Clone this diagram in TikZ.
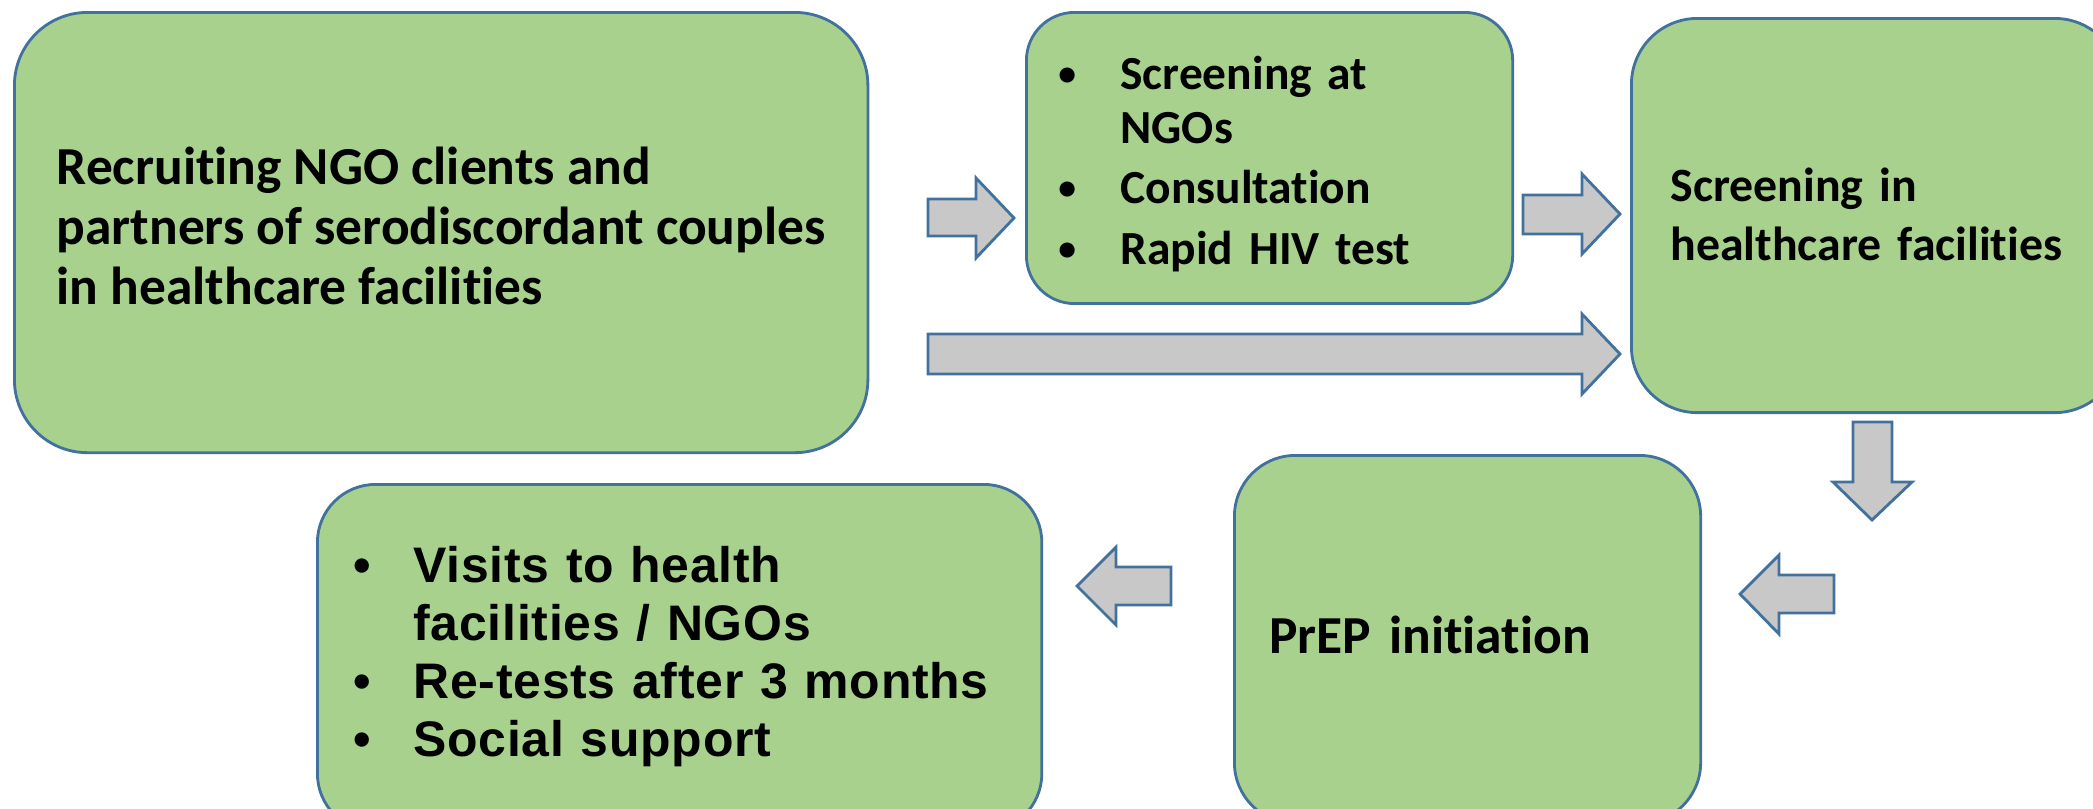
\documentclass[tikz,border=0pt]{standalone}
\usepackage{fontspec}
\setmainfont{Carlito}[Ligatures=NoCommon]
\newfontfamily\arialfont{Liberation Sans}[LetterSpace=1.5]
\definecolor{boxgreen}{HTML}{A9D18E}
\definecolor{edgeblue}{HTML}{41719C}
\definecolor{arrowgray}{HTML}{C8C8C8}
\newcommand{\ngobullet}{\raisebox{0.04cm}{\scalebox{0.75}{\textbullet}}}
\begin{document}
\begin{tikzpicture}[x=0.01cm, y=-0.01cm,
  box/.style={draw=edgeblue, fill=boxgreen, line width=0.8pt, anchor=north west, align=left},
  blockarrow/.style={draw=edgeblue, fill=arrowgray, line width=0.8pt}]
\useasboundingbox (0,0) rectangle (2093,808);
\clip (0,0) rectangle (2093,808);
% boxes
\node[box, rounded corners=0.73cm, minimum width=8.53cm, minimum height=4.4cm,
  font=\fontsize{15.2}{17.1}\selectfont\bfseries] (recruit) at (13,11)
  {\begin{tabular}{@{}l@{}}Recruiting NGO clients and\\partners of serodiscordant couples\\in healthcare facilities\end{tabular}};
\node[box, rounded corners=0.48cm, minimum width=4.86cm, minimum height=2.91cm,
  text width=4.22cm, inner xsep=0.32cm, font=\fontsize{13.5}{15.4}\selectfont\bfseries] (ngo) at (1025,11)
  {\raisebox{-0.08cm}[\height][\depth]{\begin{tabular}{@{}p{0.62cm}@{}l@{}}
   \ngobullet & Screening at\\
              & NGOs\\[0.06cm]
   \ngobullet & Consultation\\[0.06cm]
   \ngobullet & Rapid HIV test
   \end{tabular}}};
\node[box, rounded corners=0.66cm, minimum width=4.89cm, minimum height=3.94cm,
  text width=4.11cm, inner xsep=0.39cm, font=\fontsize{13.6}{16.8}\selectfont\bfseries] (clinic) at (1630,17)
  {\raisebox{-0.04cm}[\height][\depth]{\begin{tabular}{@{}l@{}}Screening in\\healthcare facilities\end{tabular}}};
\node[box, rounded corners=0.61cm, minimum width=4.66cm, minimum height=3.68cm,
  text width=3.96cm, inner xsep=0.35cm, font=\fontsize{15.2}{16.8}\selectfont\bfseries] (prep) at (1233,454)
  {\raisebox{0.05cm}[\height][\depth]{PrEP initiation}};
\node[box, rounded corners=0.58cm, minimum width=7.24cm, minimum height=3.47cm,
  text width=6.52cm, inner xsep=0.36cm, font=\arialfont\fontsize{14.2}{16.5}\selectfont\bfseries] (follow) at (316,483)
  {\begin{tabular}{@{}p{0.60cm}@{}l@{}}
   \textbullet & Visits to health\\
               & facilities / NGOs\\
   \textbullet & Re-tests after 3 months\\
   \textbullet & Social support
   \end{tabular}};
% arrows
\draw[blockarrow] (928,199) -- (976,199) -- (976,178) -- (1014,218) -- (976,258) -- (976,236) -- (928,236) -- cycle;
\draw[blockarrow] (1523,195) -- (1582,195) -- (1582,174) -- (1620,214) -- (1582,254) -- (1582,234) -- (1523,234) -- cycle;
\draw[blockarrow] (928,334) -- (1582,334) -- (1582,314) -- (1620,354) -- (1582,394) -- (1582,374) -- (928,374) -- cycle;
\draw[blockarrow] (1853,422) -- (1892,422) -- (1892,482) -- (1912,482) -- (1872,520) -- (1833,482) -- (1853,482) -- cycle;
\draw[blockarrow] (1834,575) -- (1779,575) -- (1779,555) -- (1740,594) -- (1779,634) -- (1779,613) -- (1834,613) -- cycle;
\draw[blockarrow] (1171,567) -- (1116,567) -- (1116,547) -- (1077,586) -- (1116,625) -- (1116,605) -- (1171,605) -- cycle;
\end{tikzpicture}
\end{document}
